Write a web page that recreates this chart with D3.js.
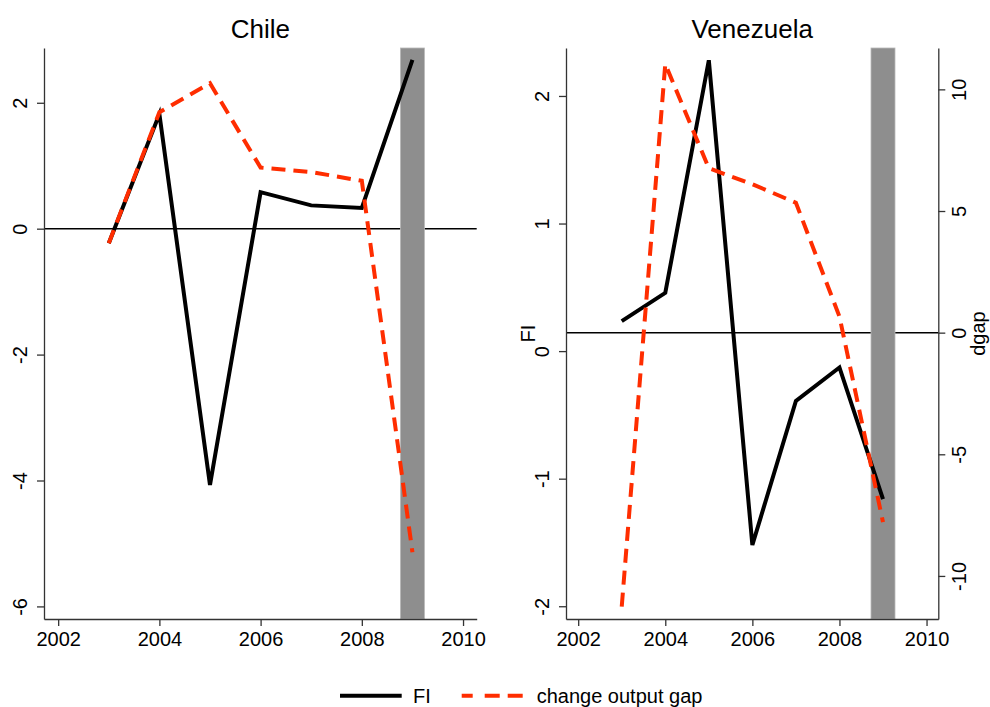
<!DOCTYPE html>
<html>
<head>
<meta charset="utf-8">
<script src="https://cdn.jsdelivr.net/npm/d3@7"></script>
<style>
  html, body { margin: 0; padding: 0; background: #fff; }
  svg { display: block; font-family: "Liberation Sans", Arial, Helvetica, sans-serif; }
</style>
</head>
<body>
<svg id="chart" width="990" height="707"></svg>
<script>
// Years shared by both countries
const years = [2003, 2004, 2005, 2006, 2007, 2008, 2009];

// Chile: FI and change in output gap (same axis)
const chileFI  = [-0.23, 1.82, -4.07, 0.58, 0.37, 0.33, 2.68];
const chileGap = [-0.23, 1.85, 2.31, 0.97, 0.90, 0.76, -5.14];

// Venezuela: FI (left axis) and change in output gap (right axis, dgap)
const venFI  = [0.235, 0.457, 2.28, -1.52, -0.39, -0.128, -1.16];
const venGap = [-11.26, 11.04, 6.76, 6.1, 5.34, 0.66, -7.79];

// Crisis year shaded in both panels
const crisisYear = 2009;

// Tick labels
const xTicks = [2002, 2004, 2006, 2008, 2010];
const chileYTicks = [-6, -4, -2, 0, 2];
const venFITicks = [-2, -1, 0, 1, 2];
const venGapTicks = [-10, -5, 0, 5, 10];

const legendLabels = ["FI", "change output gap"];

const RED = "#ff2d00";
const BLACK = "#000";
const BAND = "#8e8e8e";
const LINE_W = 4;
const DASH = "14,8";
const BAND_W = 24;

const svg = d3.select("#chart");
const plotTop = 48, plotBottom = 619;

// plain hyphen-minus labels
const fmt = d => String(d);

function yAxisLabels(g, offset) {
  g.selectAll(".tick text")
    .attr("transform", "rotate(-90)")
    .attr("x", 0)
    .attr("y", offset)
    .attr("dy", "0.36em")
    .attr("text-anchor", "middle");
}

function styleAxis(g) {
  g.selectAll("path.domain").attr("stroke", "#333").attr("stroke-width", 1.3);
  g.selectAll(".tick line").attr("stroke", "#333").attr("stroke-width", 1.3);
  g.selectAll(".tick text").attr("font-size", 20).attr("fill", "#000")
    .attr("font-family", "'Liberation Sans', Arial, sans-serif");
}

function panel(opts) {
  const x = d3.scaleLinear().domain([2001.72, 2010.27]).range([opts.left, opts.right]);
  const yL = d3.scaleLinear().domain(opts.yDomain).range([plotBottom, plotTop]);
  const yR = opts.y2Domain ? d3.scaleLinear().domain(opts.y2Domain).range([plotBottom, plotTop]) : yL;
  const g = svg.append("g");

  // zero reference line (on the axis carrying the output-gap series)
  g.append("line")
    .attr("x1", opts.left).attr("x2", opts.right)
    .attr("y1", yR(0)).attr("y2", yR(0))
    .attr("stroke", "#000").attr("stroke-width", 1.5);

  // shaded crisis year
  g.append("rect")
    .attr("x", x(crisisYear) - BAND_W / 2).attr("width", BAND_W)
    .attr("y", plotTop).attr("height", plotBottom - plotTop)
    .attr("fill", BAND).attr("stroke", "#b8b8b8").attr("stroke-width", 0.8);

  // FI line
  const lineL = d3.line().x((d, i) => x(years[i])).y(d => yL(d));
  g.append("path").datum(opts.fi).attr("d", lineL)
    .attr("fill", "none").attr("stroke", BLACK).attr("stroke-width", LINE_W)
    .attr("stroke-linejoin", "miter");

  // change in output gap line
  const lineR = d3.line().x((d, i) => x(years[i])).y(d => yR(d));
  g.append("path").datum(opts.gap).attr("d", lineR)
    .attr("fill", "none").attr("stroke", RED).attr("stroke-width", LINE_W)
    .attr("stroke-dasharray", DASH).attr("stroke-linejoin", "miter");

  // axes
  const ax = g.append("g").attr("transform", `translate(0,${plotBottom})`)
    .call(d3.axisBottom(x).tickValues(xTicks).tickFormat(fmt)
      .tickSize(7).tickPadding(6).tickSizeOuter(0));
  styleAxis(ax);

  const ayL = g.append("g").attr("transform", `translate(${opts.left},0)`)
    .call(d3.axisLeft(yL).tickValues(opts.yTicks).tickFormat(fmt)
      .tickSize(7).tickSizeOuter(0));
  styleAxis(ayL);
  yAxisLabels(ayL, -24);

  if (opts.y2Domain) {
    const ayR = g.append("g").attr("transform", `translate(${opts.right},0)`)
      .call(d3.axisRight(yR).tickValues(opts.y2Ticks).tickFormat(fmt)
        .tickSize(7).tickSizeOuter(0));
    styleAxis(ayR);
    yAxisLabels(ayR, 21);
  }

  // title
  g.append("text")
    .attr("x", (opts.left + opts.right) / 2).attr("y", 38)
    .attr("text-anchor", "middle").attr("font-size", 26)
    .text(opts.title);

  // axis titles
  if (opts.yTitle) {
    g.append("text")
      .attr("transform", `translate(${opts.left - 38},${(plotTop + plotBottom) / 2}) rotate(-90)`)
      .attr("text-anchor", "middle").attr("dy", "0.36em").attr("font-size", 20)
      .text(opts.yTitle);
  }
  if (opts.y2Title) {
    g.append("text")
      .attr("transform", `translate(${opts.right + 47},${(plotTop + plotBottom) / 2}) rotate(-90)`)
      .attr("text-anchor", "middle").attr("font-size", 20)
      .text(opts.y2Title);
  }
}

panel({
  title: "Chile", left: 44, right: 476.7,
  yDomain: [-6.2, 2.87], yTicks: chileYTicks,
  fi: chileFI, gap: chileGap
});

panel({
  title: "Venezuela", left: 566, right: 938.3,
  yDomain: [-2.10, 2.376], yTicks: venFITicks,
  y2Domain: [-11.77, 11.7], y2Ticks: venGapTicks,
  fi: venFI, gap: venGap,
  yTitle: "FI", y2Title: "dgap"
});

// legend
const legend = svg.append("g");
const ly = 695.7;
legend.append("line").attr("x1", 340).attr("x2", 401.7).attr("y1", ly).attr("y2", ly)
  .attr("stroke", BLACK).attr("stroke-width", LINE_W);
legend.append("text").attr("x", 413).attr("y", ly).attr("dy", "0.36em")
  .attr("font-size", 20).text(legendLabels[0]);
legend.append("line").attr("x1", 461.7).attr("x2", 523.3).attr("y1", ly).attr("y2", ly)
  .attr("stroke", RED).attr("stroke-width", LINE_W).attr("stroke-dasharray", "11,12,15,8,15");
legend.append("text").attr("x", 536.7).attr("y", ly).attr("dy", "0.36em")
  .attr("font-size", 20).text(legendLabels[1]);
</script>
</body>
</html>
